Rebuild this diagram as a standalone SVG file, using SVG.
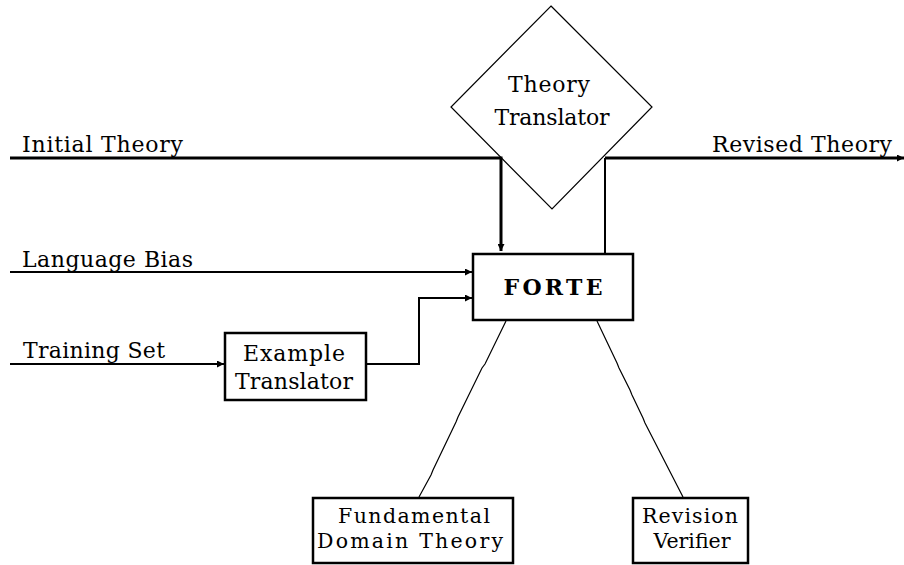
<svg xmlns="http://www.w3.org/2000/svg" width="904" height="565" viewBox="0 0 904 565">
<style>
text{font-family:"DejaVu Serif","Liberation Serif",serif;font-size:22px;fill:#000}
.s{font-size:20.5px}
.b{font-weight:bold}
.box{fill:#fff;stroke:#000;stroke-width:2.5}
.thick{fill:none;stroke:#000;stroke-width:3}
.med{fill:none;stroke:#000;stroke-width:2}
.thin{fill:none;stroke:#000;stroke-width:1.2}
</style>
<defs>
<marker id="ah" viewBox="0 0 10 10" refX="10" refY="5" markerWidth="10" markerHeight="7" markerUnits="userSpaceOnUse" orient="auto">
<path d="M0,0L10,5L0,10z" fill="#000"/>
</marker>
</defs>
<g id="connectors">
<polyline class="thick" points="10,158 501,158 501,251" marker-end="url(#ah)"/>
<polyline class="med" points="605,253 605,158"/>
<line class="thick" x1="605" y1="158" x2="904" y2="158" marker-end="url(#ah)"/>
<line class="med" x1="10" y1="272" x2="472" y2="272" marker-end="url(#ah)"/>
<line class="med" x1="10" y1="364" x2="224" y2="364" marker-end="url(#ah)"/>
<polyline class="med" points="366,364 419,364 419,298 472,298" marker-end="url(#ah)"/>
<polyline class="thin" points="506,321 485,364 482,368 458,417 456,422 433,470 431,475 419,497"/>
<polyline class="thin" points="597,321 617,363 619,368 630,390 632,395 643,418 645,423 683,497"/>
</g>
<g id="theory-translator">
<polygon points="551,6 652,107 552,209 451,107" fill="none" stroke="#000" stroke-width="1.2"/>
<text x="549" y="92" text-anchor="middle" textLength="82">Theory</text>
<text x="552" y="125" text-anchor="middle" textLength="115">Translator</text>
</g>
<g id="initial-theory"><text x="22" y="152" textLength="161">Initial Theory</text></g>
<g id="revised-theory"><text x="712" y="152" textLength="180">Revised Theory</text></g>
<g id="language-bias"><text x="22" y="267" textLength="171">Language Bias</text></g>
<g id="training-set"><text x="23" y="358" textLength="142">Training Set</text></g>
<g id="forte">
<rect class="box" x="473" y="254" width="160" height="66"/>
<text class="b" x="553" y="295" text-anchor="middle" textLength="99">FORTE</text>
</g>
<g id="example-translator">
<rect class="box" x="225" y="333" width="141" height="67"/>
<text x="294" y="361" text-anchor="middle" textLength="102">Example</text>
<text x="294" y="389" text-anchor="middle" textLength="118">Translator</text>
</g>
<g id="fundamental-domain-theory">
<rect class="box" x="313" y="498" width="200" height="65"/>
<text class="s" x="414" y="523" text-anchor="middle" textLength="152">Fundamental</text>
<text class="s" x="410" y="548" text-anchor="middle" textLength="186">Domain Theory</text>
</g>
<g id="revision-verifier">
<rect class="box" x="633" y="498" width="115" height="65"/>
<text class="s" x="690" y="523" text-anchor="middle" textLength="96">Revision</text>
<text class="s" x="692" y="548" text-anchor="middle">Verifier</text>
</g>
</svg>
